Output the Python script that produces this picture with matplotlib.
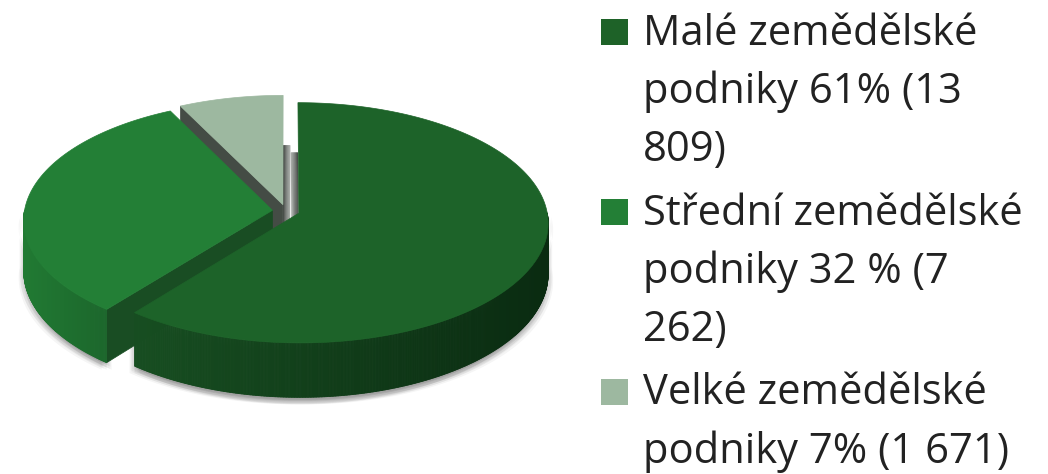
import numpy as np
import matplotlib.pyplot as plt
from matplotlib.patches import Polygon, Rectangle
from matplotlib.collections import PolyCollection
from matplotlib.colors import to_rgb

# data
categories = ["Malé zemědělské podniky", "Střední zemědělské podniky", "Velké zemědělské podniky"]
counts = [13809, 7262, 1671]
legend_lines = [["Malé zemědělské", "podniky 61% (13", "809)"],
                ["Střední zemědělské", "podniky 32 % (7", "262)"],
                ["Velké zemědělské", "podniky 7% (1 671)"]]

# styles
top_colors = ["#1d6329", "#237f36", "#9db8a0"]
wall_left = ["#174e21", "#217a33", "#8fa892"]
wall_right = ["#0a2b11", "#1c672c", "#7d937f"]
side_colors = ["#556257", "#194d23", "#444c45"]
legend_colors = ["#1e6228", "#237f36", "#9db8a0"]

# geometry in pixels
CX, CY = 286, 211
RX, RY = 248, 119
PERSP = 0.08
THICK = 50
EXPLODE = 0.055
EDGE_SHIFT = 7   # fake sideways shading for edge-on cut faces


def project(u, v, z):
    w = 1 + PERSP * v
    return CX + RX * u / w, CY - RY * v / w + THICK * z / w


def mix(c1, c2, f):
    a, b = np.array(to_rgb(c1)), np.array(to_rgb(c2))
    return tuple(a + (b - a) * f)


fig = plt.figure(figsize=(10.48, 4.74), dpi=100)
ax = fig.add_axes([0, 0, 1, 1])
ax.set_xlim(0, 1048)
ax.set_ylim(474, 0)
ax.axis('off')

total = float(sum(counts))
fracs = [c / total for c in counts]

# slices go clockwise from 12 o'clock
slices = []
start = 90.0
for i, f in enumerate(fracs):
    t2 = start
    t1 = start - 360 * f
    start = t1
    mid = np.radians((t1 + t2) / 2)
    slices.append((i, np.radians(t1), np.radians(t2),
                   EXPLODE * np.cos(mid), EXPLODE * np.sin(mid)))

faces = []   # (depth, kind, data)
tops = []
shadows = []
strips = []
for i, t1, t2, ou, ov in slices:
    ts = np.linspace(t1, t2, max(int(np.degrees(t2 - t1) * 3), 10))
    au, av = ou + np.cos(ts), ov + np.sin(ts)
    xt, yt = project(au, av, 0)
    vx, vy = project(ou, ov, 0)
    tops.append((i, np.column_stack([np.r_[vx, xt], np.r_[vy, yt]])))

    # outer wall, front half only
    xb, yb = project(au, av, 1)
    quads, depth = [], []
    for k in range(len(ts) - 1):
        if np.sin((ts[k] + ts[k + 1]) / 2) < 0:
            quads.append([(xt[k], yt[k]), (xt[k + 1], yt[k + 1]),
                          (xb[k + 1], yb[k + 1]), (xb[k], yb[k])])
            depth.append(np.sin((ts[k] + ts[k + 1]) / 2))
    if quads:
        faces.append((np.mean(depth), 'wall', (i, quads)))
        outline = [q[0] for q in quads] + [quads[-1][1], quads[-1][2]] + [q[3] for q in quads][::-1]
        shadows.append(np.array(outline))

    # radial side faces
    for t, is_end in ((t1, False), (t2, True)):
        pu, pv = ou + np.cos(t), ov + np.sin(t)
        A, Ab = project(pu, pv, 0), project(pu, pv, 1)
        V, Vb = project(ou, ov, 0), project(ou, ov, 1)
        pts = [V, A, Ab, Vb] if is_end else [A, V, Vb, Ab]
        xs = np.array([p[0] for p in pts])
        ys = np.array([p[1] for p in pts])
        area = np.sum(xs * np.roll(ys, -1) - np.roll(xs, -1) * ys)
        if abs(area) < 400:
            # edge-on face: draw a thin shaded strip next to the cut
            normal = t + (np.pi / 2 if is_end else -np.pi / 2)
            strips.append((V, A, np.sign(np.cos(normal))))
        elif area < 0:
            faces.append(((ov + pv) / 2, 'side', (i, np.column_stack([xs, ys]))))

# soft shadow
for dx, dy in [(0, 2), (2, 3), (-2, 3), (0, 5), (4, 4), (-4, 4), (3, 6), (-3, 6), (0, 7), (5, 7), (-5, 7)]:
    for poly in shadows:
        ax.add_patch(Polygon(poly + [dx, dy], closed=True, facecolor='#000000',
                             edgecolor='none', alpha=0.04))

# edge-on strips (behind everything else)
for V, A, side in strips:
    n = 8
    for k in range(n):
        a0, a1 = side * EDGE_SHIFT * k / n, side * EDGE_SHIFT * (k + 1) / n
        col = mix('#3f4440', '#a3a7a3', k / (n - 1))
        poly = [(A[0] + a0, A[1] + THICK), (A[0] + a1, A[1] + THICK),
                (V[0] + a1, V[1] + THICK), (V[0] + a0, V[1] + THICK)]
        ax.add_patch(Polygon(poly, closed=True, facecolor=col, edgecolor=col, linewidth=0.3))

faces.sort(key=lambda f: -f[0])
for depth, kind, data in faces:
    i, geom = data
    if kind == 'wall':
        xs = np.array([np.mean([p[0] for p in q]) for q in geom])
        f = (xs - xs.min()) / max(xs.max() - xs.min(), 1)
        cols = [mix(wall_left[i], wall_right[i], v) for v in f]
        ax.add_collection(PolyCollection(geom, facecolors=cols, edgecolors=cols,
                                         linewidths=0.6))
    else:
        ax.add_patch(Polygon(geom, closed=True, facecolor=side_colors[i],
                             edgecolor=side_colors[i], linewidth=0.5))

for i, poly in tops:
    ax.add_patch(Polygon(poly, closed=True, facecolor=top_colors[i],
                         edgecolor=top_colors[i], linewidth=0.5))

# legend
base = 44.5
for i, lines in enumerate(legend_lines):
    ax.add_patch(Rectangle((601, base - 26), 27, 26, facecolor=legend_colors[i],
                           edgecolor='none'))
    for j, line in enumerate(lines):
        ax.text(643, base + j * 58.5, line, fontsize=30, family='Open Sans',
                color='#222222', va='baseline', ha='left')
    base += (len(lines) - 1) * 58.5 + 63

fig.savefig('out.png', dpi=100)
